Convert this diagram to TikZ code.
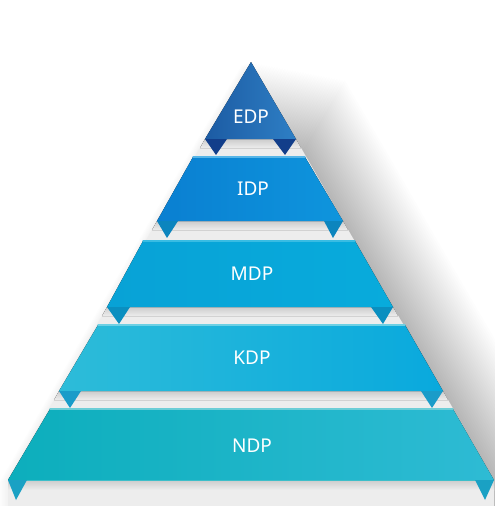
\documentclass[tikz,border=0pt]{standalone}
\usepackage{fontspec}
\setmainfont{Noto Sans}
\definecolor{edpL}{HTML}{1C5BA3}
\definecolor{edpR}{HTML}{2E7FC5}
\definecolor{edpT}{HTML}{123E8A}
\definecolor{idpL}{HTML}{0A7FD1}
\definecolor{idpR}{HTML}{0E95DD}
\definecolor{idpT}{HTML}{0C85BE}
\definecolor{mdpL}{HTML}{08A2D6}
\definecolor{mdpR}{HTML}{08ABDC}
\definecolor{mdpT}{HTML}{0A8FC0}
\definecolor{kdpL}{HTML}{2DBCD9}
\definecolor{kdpR}{HTML}{09A9DD}
\definecolor{kdpT}{HTML}{1A9CC9}
\definecolor{ndpL}{HTML}{0CAEBC}
\definecolor{ndpR}{HTML}{2EBBD4}
\definecolor{ndpT}{HTML}{1AA1C4}
\definecolor{backgrey}{HTML}{EDEDED}
\begin{document}
\begin{tikzpicture}[x=1pt,y=-1pt,
  lbl/.style={text=white,font=\fontsize{19}{22}\selectfont,inner sep=0pt},
  hilite/.style={line width=1.2pt,line cap=round},
  gapshade/.style={top color=gray!40,bottom color=backgrey}]
\useasboundingbox[fill=white] (0,0) rectangle (495,506);
% soft shadow to the right
\foreach \k in {1,...,36}{
  \fill[black,opacity=0.009,shift={(\k*2.6,\k*0.5)}]
    (251,62) -- (296,139) -- (343,221) -- (393,307) -- (443,391) -- (494,480) -- (494,506)
    -- (8,506) -- (8,480) -- (59,391) -- (107,307) -- (157,221) -- (205,139) -- cycle;
}
\foreach \k in {1,...,6}{
  \fill[black,opacity=0.008,shift={(-\k*1.5,\k*0.5)}]
    (251,62) -- (296,139) -- (343,221) -- (393,307) -- (443,391) -- (494,480) -- (494,506)
    -- (8,506) -- (8,480) -- (59,391) -- (107,307) -- (157,221) -- (205,139) -- cycle;
}
% grey backing of the pyramid
\fill[backgrey] (251,62) -- (296,139) -- (343,221) -- (393,307) -- (443,391) -- (494,480) -- (494,506)
    -- (8,506) -- (8,480) -- (59,391) -- (107,307) -- (157,221) -- (205,139) -- cycle;
% shadows under layers
\fill[gapshade] (205,139) -- (296,139) -- (301,148) -- (200,148) -- cycle;
\fill[gapshade] (157,221) -- (343,221) -- (348,230) -- (152,230) -- cycle;
\fill[gapshade] (107,307) -- (393,307) -- (398,316) -- (102,316) -- cycle;
\fill[gapshade] (59,391) -- (443,391) -- (448,400) -- (54,400) -- cycle;
\fill[gapshade] (8,480) -- (494,480) -- (494,490) -- (8,490) -- cycle;
% EDP
\fill[left color=edpL,right color=edpR] (251,62) -- (296,139) -- (205,139) -- cycle;
\fill[edpT] (205,139) -- (227,139) -- (216,155) -- cycle;
\fill[edpT] (273,139) -- (296,139) -- (285,155) -- cycle;
\node[lbl] (edp) at (251,117) {EDP};
% IDP
\fill[left color=idpL,right color=idpR] (193,157) -- (305,157) -- (343,221) -- (157,221) -- cycle;
\draw[hilite,color=idpR!70!white] (193,157) -- (305,157);
\fill[idpT] (157,221) -- (178,221) -- (167,238) -- cycle;
\fill[idpT] (324,221) -- (343,221) -- (333,238) -- cycle;
\node[lbl] (idp) at (253,189) {IDP};
% MDP
\fill[left color=mdpL,right color=mdpR] (143,241) -- (355,241) -- (393,307) -- (107,307) -- cycle;
\draw[hilite,color=mdpR!80!white] (143,241) -- (355,241);
\fill[mdpT] (107,307) -- (130,307) -- (119,324) -- cycle;
\fill[mdpT] (371,307) -- (393,307) -- (383,324) -- cycle;
\node[lbl] (mdp) at (252,274) {MDP};
% KDP
\fill[left color=kdpL,right color=kdpR] (98,325) -- (405,325) -- (443,391) -- (59,391) -- cycle;
\draw[hilite,color=kdpL!70!white] (98,325) -- (405,325);
\fill[kdpT] (59,391) -- (81,391) -- (70,408) -- cycle;
\fill[kdpT] (421,391) -- (443,391) -- (432,408) -- cycle;
\node[lbl] (kdp) at (252,358) {KDP};
% NDP
\fill[left color=ndpL,right color=ndpR] (50,409) -- (453,409) -- (494,480) -- (8,480) -- cycle;
\draw[hilite,color=ndpL!60!white] (50,409) -- (453,409);
\draw[line width=0.8pt,color=ndpL!80!white] (8,480) -- (494,480);
\fill[ndpT] (8,480) -- (27,480) -- (16,500) -- cycle;
\fill[ndpT] (475,480) -- (494,480) -- (485,500) -- cycle;
\node[lbl] (ndp) at (252,446) {NDP};
\end{tikzpicture}
\end{document}
